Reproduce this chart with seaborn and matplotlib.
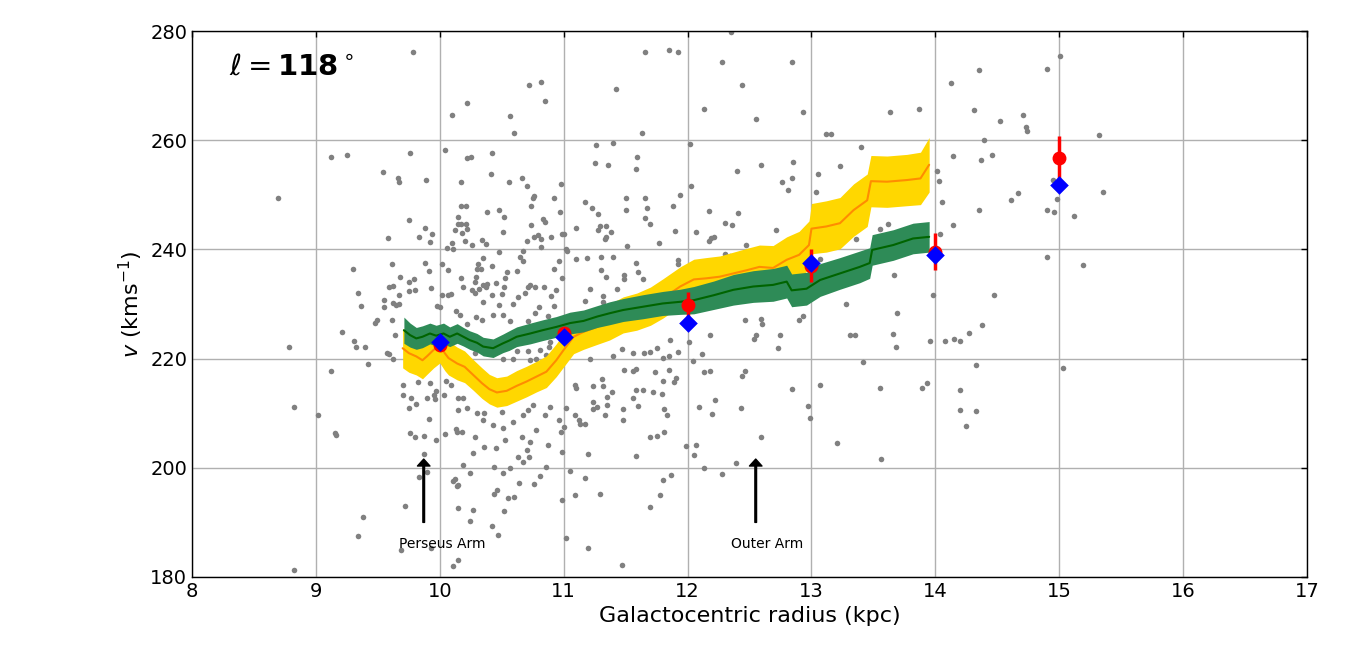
import numpy as np
import pandas as pd
import seaborn as sns
import matplotlib
matplotlib.use("Agg")
import matplotlib.pyplot as plt

# individual stars (R, v)
stars_left = [(8.69, 249.5), (8.78, 222.2), (8.82, 211.1), (8.82, 181.2), (9.02, 209.6), (9.12, 256.9),
              (9.12, 217.7), (9.15, 206.3), (9.16, 206.0), (9.25, 257.2), (9.21, 224.8), (9.30, 236.5),
              (9.31, 223.2), (9.32, 222.1), (9.34, 232.0), (9.34, 187.5), (9.36, 229.6), (9.38, 191.0),
              (9.40, 222.1), (9.42, 219.0), (9.48, 226.6), (9.49, 227.1), (9.54, 254.1), (9.55, 229.4),
              (9.55, 230.8), (9.57, 221.0), (9.58, 242.0), (9.59, 220.8), (9.59, 233.1), (9.61, 237.4),
              (9.61, 227.1), (9.62, 233.3), (9.62, 219.9), (9.62, 230.2), (9.64, 224.4), (9.65, 229.8),
              (9.66, 253.1), (9.67, 252.3), (9.67, 230.0), (9.67, 231.6), (9.68, 234.9), (9.69, 185.0)]
stars_perseus = [(9.70, 215.2), (9.70, 213.4), (9.72, 193.0), (9.75, 245.3), (9.75, 234.0), (9.75, 232.3),
                 (9.75, 210.9), (9.76, 257.6), (9.76, 206.3), (9.77, 212.7), (9.78, 276.1), (9.79, 234.5),
                 (9.80, 232.5), (9.80, 205.6), (9.81, 211.6), (9.82, 215.7), (9.83, 242.2), (9.83, 198.3),
                 (9.87, 205.8), (9.87, 202.5), (9.88, 244.0), (9.88, 237.6), (9.89, 252.7), (9.90, 212.7),
                 (9.90, 199.2), (9.91, 236.0), (9.91, 208.9), (9.92, 241.3), (9.92, 215.5), (9.93, 232.9),
                 (9.93, 185.3), (9.94, 242.9), (9.95, 213.3), (9.96, 212.6), (9.97, 214.0), (9.97, 205.0),
                 (9.98, 229.7), (10.00, 229.4), (10.02, 237.3), (10.02, 231.6), (10.03, 213.3), (10.04, 258.2),
                 (10.04, 206.1), (10.05, 215.9), (10.06, 240.2), (10.07, 236.2), (10.07, 231.6), (10.09, 231.8),
                 (10.09, 215.2), (10.10, 264.6), (10.10, 241.2), (10.11, 240.0), (10.11, 197.5), (10.11, 182.1),
                 (10.12, 243.6), (10.12, 197.9), (10.13, 228.7), (10.13, 207.1), (10.14, 196.7), (10.14, 206.6),
                 (10.15, 245.9), (10.15, 244.7), (10.15, 212.7), (10.15, 210.6), (10.15, 192.6), (10.15, 183.1),
                 (10.15, 196.8)]
stars_mid_high = [(10.22, 266.8), (10.72, 270.1), (10.82, 270.6), (10.85, 267.1), (10.57, 264.4), (10.60, 261.3),
                  (11.42, 269.3), (11.66, 276.1), (11.63, 261.4), (10.22, 256.7), (10.25, 257.0), (10.42, 257.6),
                  (11.26, 259.2), (11.40, 259.4), (10.17, 252.3), (10.41, 253.9), (10.56, 252.3), (10.66, 253.0),
                  (10.70, 251.6), (10.98, 251.9), (11.25, 255.8), (11.36, 255.4), (11.59, 257.0), (11.58, 254.7),
                  (10.17, 247.9), (10.21, 247.9), (10.17, 244.6), (10.21, 244.6), (10.22, 243.7), (10.18, 243.0),
                  (10.20, 241.5), (10.26, 240.8), (10.34, 241.8), (10.37, 240.9), (10.38, 246.8), (10.48, 247.3),
                  (10.52, 245.9), (10.51, 243.1), (10.75, 249.4), (10.76, 249.7), (10.74, 247.9), (10.92, 249.4),
                  (10.97, 246.8), (10.83, 245.5), (10.85, 245.0), (10.74, 244.4), (10.70, 241.5), (10.76, 242.2),
                  (10.79, 242.6), (10.82, 241.9), (10.82, 240.4), (10.90, 242.2), (10.99, 242.9), (11.00, 242.9),
                  (11.02, 240.0), (11.03, 239.7), (11.10, 243.9), (11.17, 248.6), (11.23, 247.5), (11.28, 246.4),
                  (11.29, 244.2), (11.34, 244.2), (11.28, 243.5), (11.38, 243.1), (11.33, 241.9), (11.34, 242.2),
                  (11.50, 249.5), (11.50, 247.3), (11.66, 249.5), (11.67, 247.5), (11.66, 245.7), (11.70, 244.6),
                  (11.51, 240.6), (11.77, 241.1)]
stars_mid_band = [(10.35, 238.4), (10.31, 237.3), (10.30, 236.5), (10.33, 236.4), (10.42, 236.9), (10.48, 239.5),
                  (10.17, 234.7), (10.19, 233.1), (10.29, 234.9), (10.28, 234.0), (10.26, 232.5), (10.28, 232.0),
                  (10.32, 232.7), (10.35, 233.4), (10.37, 233.1), (10.38, 233.6), (10.45, 233.8), (10.42, 231.6),
                  (10.50, 231.8), (10.53, 234.7), (10.54, 235.8), (10.52, 233.1), (10.62, 236.0), (10.65, 238.6),
                  (10.67, 237.8), (10.67, 239.7), (10.63, 231.3), (10.71, 233.1), (10.73, 233.4), (10.69, 232.0),
                  (10.77, 233.2), (10.84, 233.1), (10.92, 236.5), (10.96, 237.8), (10.99, 234.7), (10.94, 232.5),
                  (10.90, 231.4), (11.10, 238.2), (11.19, 238.4), (11.30, 238.6), (11.40, 238.6), (11.30, 236.2),
                  (11.34, 234.9), (11.49, 235.3), (11.49, 234.6), (11.58, 237.6), (11.60, 235.8), (11.64, 234.5),
                  (11.21, 232.7), (11.32, 231.4), (11.43, 232.7), (10.35, 230.4), (10.48, 229.8), (10.59, 230.0),
                  (10.80, 229.4), (10.92, 229.6), (11.17, 230.5), (11.32, 230.3), (10.16, 228.0), (10.29, 227.7),
                  (10.22, 226.3), (10.34, 227.1), (10.43, 228.0), (10.51, 228.0), (10.57, 226.9), (10.71, 226.8),
                  (10.77, 228.3), (10.87, 227.8), (10.93, 226.7), (10.89, 223.1), (10.62, 221.4), (10.71, 221.3),
                  (10.81, 221.6), (10.88, 222.2), (10.51, 219.9), (10.59, 219.9), (10.73, 219.7), (10.78, 220.0),
                  (10.86, 220.7), (10.28, 221.0), (10.46, 221.6)]
stars_mid_low = [(11.21, 220.0), (11.40, 220.5), (11.47, 221.7), (11.56, 221.1), (11.65, 221.1), (11.70, 221.2),
                 (11.75, 221.9), (11.49, 217.9), (11.56, 217.7), (11.58, 218.1), (11.74, 217.5), (11.09, 215.2),
                 (11.10, 214.7), (11.24, 214.9), (11.32, 215.0), (11.31, 216.2), (11.35, 213.0), (11.39, 213.9),
                 (11.58, 214.2), (11.64, 214.2), (11.72, 213.9), (11.56, 212.7), (11.02, 211.0), (11.09, 209.7),
                 (11.12, 208.8), (11.17, 208.1), (11.13, 208.1), (11.24, 212.0), (11.24, 210.7), (11.27, 211.2),
                 (11.33, 209.7), (11.35, 211.5), (11.48, 210.7), (11.60, 211.3), (11.48, 208.8), (11.00, 207.5),
                 (10.98, 206.6), (10.99, 202.9), (11.20, 202.5), (11.70, 205.7), (11.75, 205.8), (11.58, 202.1),
                 (11.17, 198.1), (11.05, 199.5), (11.09, 195.0), (11.29, 195.2), (10.99, 194.1), (11.70, 192.8),
                 (11.02, 187.1), (11.20, 185.3), (11.47, 182.2), (10.19, 212.7), (10.22, 210.9), (10.30, 210.0),
                 (10.36, 210.0), (10.35, 208.8), (10.43, 207.8), (10.50, 210.3), (10.51, 207.2), (10.59, 208.4),
                 (10.67, 209.7), (10.71, 210.6), (10.75, 211.5), (10.85, 209.7), (10.89, 211.2), (10.96, 208.8),
                 (10.18, 206.6), (10.28, 205.7), (10.36, 203.9), (10.45, 203.6), (10.53, 205.1), (10.66, 205.7),
                 (10.73, 204.8), (10.70, 203.3), (10.78, 206.9), (10.87, 204.2), (10.27, 202.8), (10.63, 202.0),
                 (10.67, 201.1), (10.72, 202.0), (10.19, 200.5), (10.44, 200.2), (10.51, 199.1), (10.57, 199.9),
                 (10.86, 200.2), (10.24, 199.1), (10.64, 197.3), (10.76, 197.0), (10.81, 198.5), (10.46, 195.9),
                 (10.44, 195.2), (10.55, 194.4), (10.60, 194.6), (10.27, 192.3), (10.52, 192.1), (10.24, 190.2),
                 (10.42, 189.3), (10.47, 187.7)]
stars_outer = [(11.85, 276.5), (11.92, 276.1), (12.35, 279.8), (12.28, 274.4), (12.84, 274.4), (12.44, 270.1),
               (12.13, 265.7), (12.55, 263.8), (12.93, 265.1), (13.12, 261.1), (13.16, 261.1), (13.63, 265.1),
               (12.02, 259.3), (13.40, 258.7), (12.40, 254.3), (12.59, 255.4), (12.85, 256.0), (13.23, 255.2),
               (13.05, 253.9), (12.76, 252.3), (12.84, 253.0), (12.81, 250.8), (13.04, 250.6), (12.03, 251.6),
               (11.94, 249.9), (11.88, 247.9), (12.17, 247.0), (12.41, 246.6), (11.90, 243.3), (12.07, 243.1),
               (12.30, 244.8), (12.36, 244.4), (12.19, 242.0), (12.17, 241.5), (12.21, 242.2), (12.47, 240.8),
               (12.71, 243.5), (13.55, 243.7), (13.62, 244.6), (13.36, 241.9), (12.30, 239.1), (12.34, 238.7),
               (11.92, 238.0), (11.92, 237.4), (13.07, 238.2), (13.67, 235.4), (13.98, 231.6), (13.28, 230.0),
               (13.69, 228.3), (12.93, 227.8), (12.90, 227.0), (12.59, 227.2), (12.60, 226.3), (12.46, 227.0),
               (12.18, 224.3), (11.86, 223.4), (12.01, 223.0), (11.92, 221.2), (11.80, 220.2), (11.85, 220.4),
               (12.12, 220.8), (12.55, 224.3), (12.54, 223.5), (12.75, 224.3), (12.73, 221.9), (13.31, 224.3),
               (13.35, 224.3), (13.66, 224.5), (13.68, 222.1), (13.42, 219.3), (12.04, 219.5), (11.85, 217.9),
               (11.80, 215.9), (11.89, 215.7), (11.91, 216.4), (11.79, 213.5), (12.13, 217.5), (12.18, 217.7),
               (12.46, 217.7), (12.44, 216.8), (12.84, 214.4), (13.07, 215.1), (13.55, 214.7), (12.22, 212.4),
               (12.09, 211.1), (12.43, 210.9), (12.20, 209.8), (11.81, 210.7), (11.83, 209.6), (12.97, 211.4),
               (12.99, 209.1), (12.59, 205.6), (11.81, 206.5), (11.99, 204.0), (12.07, 204.1), (12.05, 202.3),
               (13.21, 204.5), (13.56, 201.6), (12.39, 200.9), (12.13, 199.9), (12.28, 198.8), (11.80, 197.7),
               (11.87, 198.6), (11.78, 195.1)]
stars_right = [(15.01, 275.5), (14.90, 273.0), (14.35, 272.8), (14.13, 270.4), (13.87, 265.8), (14.31, 265.5),
               (14.52, 263.6), (14.71, 264.6), (14.73, 262.5), (14.74, 261.6), (15.32, 260.9), (14.39, 260.0),
               (14.14, 257.1), (14.37, 256.3), (14.46, 257.2), (14.01, 254.3), (14.03, 252.5), (14.95, 252.7),
               (14.05, 248.6), (14.67, 250.3), (14.61, 249.0), (14.98, 249.2), (15.35, 250.6), (14.35, 247.2),
               (14.90, 247.3), (14.96, 246.8), (15.12, 246.2), (14.14, 244.4), (14.04, 242.8), (14.90, 238.6),
               (15.19, 237.1), (14.47, 231.6), (14.38, 226.1), (14.27, 224.6), (13.96, 223.2), (14.08, 223.2),
               (14.15, 223.5), (14.20, 223.2), (14.33, 218.8), (15.03, 218.2), (13.89, 214.6), (13.93, 215.5),
               (14.20, 214.2), (14.20, 210.5), (14.33, 210.4), (14.25, 207.6)]

# running curve, yellow band (centre + half width)
r_yel = [9.70, 9.75, 9.81, 9.86, 9.90, 9.95, 10.00, 10.04, 10.07,
         10.14, 10.20, 10.27, 10.34, 10.40, 10.46, 10.54, 10.62, 10.70, 10.78, 10.86, 10.94,
         11.00, 11.08, 11.16, 11.27, 11.37, 11.48, 11.59, 11.70, 11.80,
         11.94, 12.05, 12.15, 12.26, 12.37, 12.48, 12.58, 12.69, 12.80, 12.90, 12.98,
         13.00, 13.12, 13.23, 13.34, 13.45, 13.48, 13.61, 13.77, 13.88, 13.95]
v_yel = [221.9, 221.0, 220.4, 219.7, 220.5, 221.6, 222.5, 221.0, 220.1,
         219.1, 218.5, 217.0, 215.5, 214.4, 213.8, 214.1, 215.0, 215.8, 216.7, 217.6, 219.7,
         221.6, 224.0, 224.9, 225.8, 226.7, 228.0, 228.6, 229.6, 231.0,
         233.2, 234.5, 234.7, 235.0, 235.6, 236.2, 236.8, 236.6, 238.1, 239.0, 240.8,
         243.8, 244.2, 244.8, 247.2, 249.0, 252.5, 252.4, 252.7, 253.0, 255.5]
w_yel = [3.6, 3.5, 3.4, 3.4, 3.3, 3.3, 3.3, 3.2, 3.1,
         3.0, 2.9, 2.8, 2.8, 2.7, 2.7, 2.7, 2.8, 2.8, 2.8, 2.9, 3.0,
         3.1, 3.1, 3.2, 3.2, 3.3, 3.3, 3.4, 3.5, 3.6,
         3.6, 3.7, 3.8, 3.8, 3.9, 4.0, 4.0, 4.1, 4.2, 4.3, 4.4,
         4.6, 4.7, 4.7, 4.8, 4.8, 4.7, 4.7, 4.7, 4.8, 5.0]

# running curve, green band
r_grn = [9.71, 9.76, 9.81, 9.86, 9.92, 9.97, 10.03, 10.08, 10.14, 10.19,
         10.24, 10.30, 10.35, 10.43, 10.51, 10.56, 10.62, 10.73, 10.83, 10.94,
         11.05, 11.16, 11.27, 11.37, 11.48, 11.64, 11.80, 11.94,
         12.05, 12.21, 12.37, 12.53, 12.69, 12.80, 12.84, 12.96, 13.07, 13.23,
         13.39, 13.47, 13.49, 13.66, 13.82, 13.95]
v_grn = [225.2, 224.3, 223.7, 224.0, 224.6, 224.2, 224.6, 224.0, 224.6, 224.0,
         223.4, 222.9, 222.2, 221.9, 222.8, 223.3, 224.0, 224.6, 225.2, 225.8,
         226.5, 226.9, 227.7, 228.3, 228.9, 229.5, 230.1, 230.4,
         230.7, 231.6, 232.6, 233.2, 233.5, 234.1, 232.5, 232.8, 234.4, 235.6,
         236.8, 237.5, 239.9, 240.8, 242.0, 242.3]
w_grn = [2.4, 2.2, 2.0, 2.0, 1.9, 1.9, 1.9, 1.8, 1.8, 1.7,
         1.7, 1.7, 1.7, 1.7, 1.7, 1.8, 1.8, 1.9, 1.9, 1.9,
         2.0, 2.0, 2.0, 2.1, 2.1, 2.2, 2.2, 2.3,
         2.5, 2.6, 2.8, 2.9, 3.0, 3.0, 3.0, 3.0, 3.0, 2.9,
         2.9, 2.8, 2.8, 2.8, 2.8, 2.8]

# binned values
r_bin = [10, 11, 12, 13, 14, 15]
v_red = [222.5, 224.6, 229.8, 237.0, 239.6, 256.7]
e_red = [1.0, 1.2, 2.4, 3.0, 3.4, 4.0]
v_blue = [223.1, 224.0, 226.5, 237.5, 238.9, 251.8]

arms = ['Perseus Arm', 'Outer Arm']
arm_r = [9.87, 12.55]

stars = pd.DataFrame(stars_left + stars_perseus + stars_mid_high + stars_mid_band + stars_mid_low
                     + stars_outer + stars_right, columns=['R', 'v'])
yel = pd.DataFrame({'R': r_yel, 'v': v_yel, 'w': w_yel})
grn = pd.DataFrame({'R': r_grn, 'v': v_grn, 'w': w_grn})

sns.set_theme(style="white", rc={'text.color': 'black', 'axes.labelcolor': 'black',
                                 'xtick.color': 'black', 'ytick.color': 'black'})
plt.rcParams['font.family'] = ['DejaVu Sans']

fig, ax = plt.subplots(figsize=(13.66, 6.71), dpi=100)
fig.subplots_adjust(left=0.1406, right=0.9568, top=0.9538, bottom=0.1401)

sns.scatterplot(data=stars, x='R', y='v', color='#808080', s=16, linewidth=0, ax=ax, zorder=2)

ax.fill_between(yel['R'], yel['v'] - yel['w'], yel['v'] + yel['w'], color='#FFD700', lw=0, zorder=3)
sns.lineplot(data=yel, x='R', y='v', color='#FF8C00', lw=1.5, ax=ax, zorder=4)
ax.fill_between(grn['R'], grn['v'] - grn['w'], grn['v'] + grn['w'], color='#2E8B57', lw=0, zorder=5)
sns.lineplot(data=grn, x='R', y='v', color='#006400', lw=1.5, ax=ax, zorder=6)

ax.errorbar(r_bin, v_red, yerr=e_red, fmt='o', color='red', ms=9, elinewidth=2.5, capsize=0, zorder=7)
sns.scatterplot(x=r_bin, y=v_blue, marker='D', color='blue', s=90, linewidth=0, ax=ax, zorder=8)

for name, r in zip(arms, arm_r):
    ax.annotate('', xy=(r, 201.6), xytext=(r, 190),
                arrowprops=dict(facecolor='black', edgecolor='black', width=1.2, headwidth=9,
                                headlength=5, shrink=0))
    ax.text(r - 0.2, 186, name, fontsize=10, ha='left', va='center', color='black')

ax.text(0.033, 0.935, r'$\ell = \mathbf{118}^\circ$', transform=ax.transAxes,
        fontsize=21, ha='left', va='center', color='black')

ax.set_xlim(8, 17)
ax.set_ylim(180, 280)
ax.set_xticks(range(8, 18))
ax.set_yticks(range(180, 281, 20))
ax.grid(True, color='#b0b0b0', lw=1)
ax.set_axisbelow(True)
for s in ax.spines.values():
    s.set_color('black')
    s.set_linewidth(1)
ax.tick_params(direction='in', length=4, width=1, labelsize=14, top=True, right=True,
               color='black', labelcolor='black')
ax.set_xlabel('Galactocentric radius (kpc)', fontsize=16, color='black')
ax.set_ylabel(r'$v$ (kms$^{-1}$)', fontsize=16, color='black')

fig.savefig('out.png', dpi=100)
